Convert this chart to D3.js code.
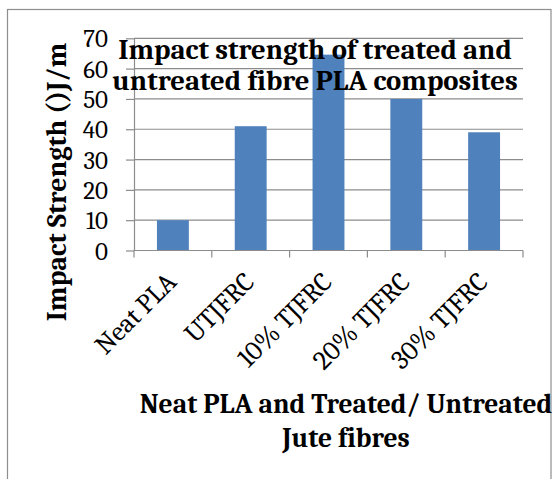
<!DOCTYPE html>
<html>
<head>
<meta charset="utf-8">
<script src="https://cdn.jsdelivr.net/npm/d3@7"></script>
<style>
  body { margin: 0; background: #fff; }
  svg { display: block; font-family: Cambria, "Liberation Serif", serif; }
</style>
</head>
<body>
<div id="chart"></div>
<script>
// chart data
const categories = ['Neat PLA', 'UTJFRC', '10% TJFRC', '20% TJFRC', '30% TJFRC'];
const impactValues = [10, 41, 64.6, 50, 39];
const yTicks = [0, 10, 20, 30, 40, 50, 60, 70];
const titleLines = ['Impact strength of treated and', 'untreated fibre PLA composites'];
const xTitleLines = ['Neat PLA and Treated/ Untreated', 'Jute fibres'];
const yTitle = 'Impact Strength ()J/m';

const W = 553, H = 479;
const plot = { left: 134, right: 523, top: 38.3, bottom: 250.5 };
const FONT = 'Cambria, "Liberation Serif", serif';

const svg = d3.select('#chart').append('svg')
  .attr('width', W)
  .attr('height', H);

svg.append('rect').attr('width', W).attr('height', H).attr('fill', '#fff');

// outer chart border (bottom runs off the picture)
svg.append('rect')
  .attr('x', 7.5).attr('y', 9.5)
  .attr('width', 543.5).attr('height', 520)
  .attr('fill', 'none')
  .attr('stroke', '#8e8e8e')
  .attr('stroke-width', 1.2);

const x = d3.scaleBand()
  .domain(categories)
  .range([plot.left, plot.right])
  .paddingInner(0.59)
  .paddingOuter(0.295);

const y = d3.scaleLinear()
  .domain([0, 70])
  .range([plot.bottom, plot.top]);

// gridlines
svg.append('g')
  .selectAll('line')
  .data(yTicks.slice(1))
  .join('line')
  .attr('x1', plot.left).attr('x2', plot.right)
  .attr('y1', d => y(d)).attr('y2', d => y(d))
  .attr('stroke', '#8c8c8c')
  .attr('stroke-width', 1.2);

// bars
svg.append('g')
  .selectAll('rect')
  .data(categories)
  .join('rect')
  .attr('x', d => x(d))
  .attr('width', x.bandwidth())
  .attr('y', (d, i) => y(impactValues[i]))
  .attr('height', (d, i) => y(0) - y(impactValues[i]))
  .attr('fill', '#4f81bd');

// y axis
const yAxis = svg.append('g')
  .attr('transform', `translate(${plot.left},0)`)
  .call(d3.axisLeft(y).tickValues(yTicks).tickSize(8).tickPadding(18).tickSizeOuter(0));
yAxis.select('.domain').attr('stroke', '#8c8c8c').attr('stroke-width', 1.2);
yAxis.selectAll('.tick line').attr('stroke', '#8c8c8c').attr('stroke-width', 1.2);
yAxis.selectAll('.tick text')
  .attr('font-family', FONT)
  .attr('font-size', 25)
  .attr('fill', '#000')
  .attr('dy', '0.34em');

// x axis: ticks at category boundaries
const xAxis = svg.append('g').attr('transform', `translate(0,${plot.bottom})`);
xAxis.append('line')
  .attr('x1', plot.left).attr('x2', plot.right)
  .attr('stroke', '#8c8c8c').attr('stroke-width', 1.2);
const step = x.step();
xAxis.selectAll('line.tk')
  .data(d3.range(categories.length + 1))
  .join('line')
  .attr('class', 'tk')
  .attr('x1', i => plot.left + i * step).attr('x2', i => plot.left + i * step)
  .attr('y1', 0).attr('y2', 7)
  .attr('stroke', '#8c8c8c').attr('stroke-width', 1.2);

xAxis.selectAll('text')
  .data(categories)
  .join('text')
  .attr('transform', d => `translate(${x(d) + x.bandwidth() / 2 + 5},${33}) rotate(-45)`)
  .attr('text-anchor', 'end')
  .attr('font-size', 27)
  .attr('fill', '#000')
  .text(d => d);

// chart title, drawn over the plot
svg.append('g')
  .selectAll('text')
  .data(titleLines)
  .join('text')
  .attr('x', 315)
  .attr('y', (d, i) => 59 + i * 31)
  .attr('text-anchor', 'middle')
  .attr('font-weight', 'bold')
  .attr('font-size', 28.7)
  .attr('fill', '#000')
  .text(d => d);

// x axis title
svg.append('g')
  .selectAll('text')
  .data(xTitleLines)
  .join('text')
  .attr('x', 346)
  .attr('y', (d, i) => 413 + i * 34)
  .attr('text-anchor', 'middle')
  .attr('font-weight', 'bold')
  .attr('font-size', 27.5)
  .attr('fill', '#000')
  .text(d => d);

// y axis title
svg.append('text')
  .attr('transform', 'translate(66,182) rotate(-90)')
  .attr('text-anchor', 'middle')
  .attr('font-weight', 'bold')
  .attr('font-size', 27.8)
  .attr('fill', '#000')
  .text(yTitle);
</script>
</body>
</html>
